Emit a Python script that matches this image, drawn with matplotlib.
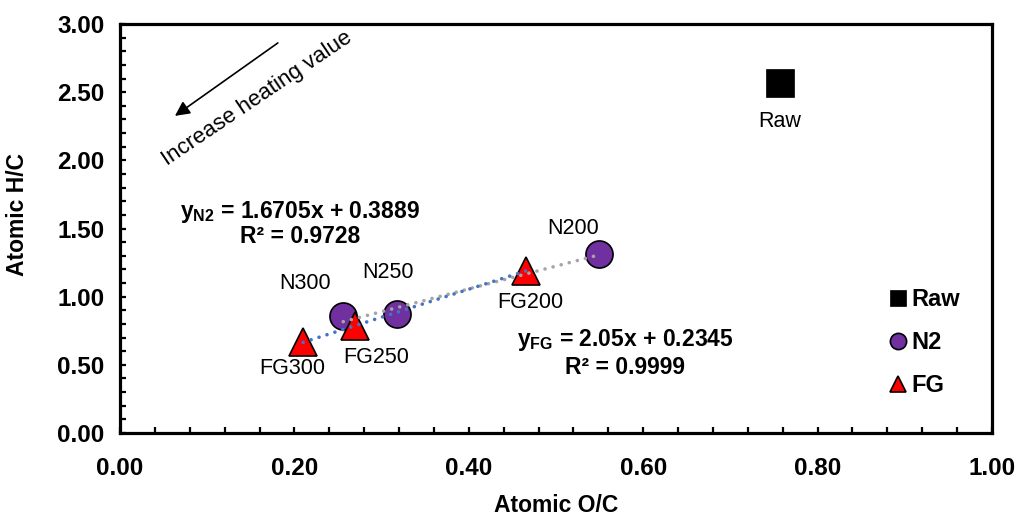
import numpy as np
import matplotlib
matplotlib.use("Agg")
import matplotlib.pyplot as plt
from matplotlib.ticker import MultipleLocator, FormatStrFormatter

plt.rcParams["font.family"] = ["Liberation Sans", "DejaVu Sans"]
plt.rcParams["mathtext.fontset"] = "custom"
plt.rcParams["mathtext.rm"] = "Liberation Sans"
plt.rcParams["mathtext.bf"] = "Liberation Sans:bold"

# Van Krevelen data: atomic O/C vs atomic H/C
raw_oc = [0.757]
raw_hc = [2.57]
raw_labels = ["Raw"]

n2_oc = [0.549, 0.318, 0.256]
n2_hc = [1.315, 0.873, 0.858]
n2_labels = ["N200", "N250", "N300"]

fg_oc = [0.466, 0.269, 0.210]
fg_hc = [1.19, 0.785, 0.665]
fg_labels = ["FG200", "FG250", "FG300"]

# Linear trendlines (slope, intercept, R^2)
n2_fit = [1.6705, 0.3889, 0.9728]
fg_fit = [2.05, 0.2345, 0.9999]

x_ticks = [0.0, 0.2, 0.4, 0.6, 0.8, 1.0]
y_ticks = [0.0, 0.5, 1.0, 1.5, 2.0, 2.5, 3.0]

fig = plt.figure(figsize=(10.2, 5.15), dpi=100)
ax = fig.add_axes([120 / 1020, 1 - 433 / 515, 872 / 1020, 409 / 515])

ms = 19.5
ax.plot(raw_oc, raw_hc, "s", color="black", ms=19.5, mec="black", mew=0.5,
        zorder=3, label="Raw", linestyle="none")
ax.plot(n2_oc, n2_hc, "o", color="#7030A0", ms=ms, mec="black", mew=1.2,
        zorder=3, label="N2", linestyle="none")
ax.plot(fg_oc, fg_hc, "^", color="#FF0000", ms=ms, mec="black", mew=1.2,
        zorder=3, label="FG", linestyle="none")

# Trendlines over each series' x range
for xs, fit, col in [(n2_oc, n2_fit, "#A5A5A5"), (fg_oc, fg_fit, "#4472C4")]:
    xx = np.array([min(xs), max(xs)])
    ax.plot(xx, fit[0] * xx + fit[1], color=col, lw=2.6,
            linestyle=(0, (0.01, 2.3)), dash_capstyle="round", zorder=4)

# Point labels (offsets in pixels)
def label_points(xs, ys, names, offsets):
    for x, y, t, (dx, dy) in zip(xs, ys, names, offsets):
        ax.annotate(t, (x, y), xytext=(dx, dy), textcoords="offset pixels",
                    ha="center", va="center", fontsize=15.5, zorder=5)

label_points(raw_oc, raw_hc, raw_labels, [(0, -39)])
label_points(n2_oc, n2_hc, n2_labels, [(-26, 25), (-9, 41), (-38, 33)])
label_points(fg_oc, fg_hc, fg_labels, [(4, -32), (22, -32), (-11, -26)])

# Trendline equations
ax.text(0.206, 1.621, r"$\mathbf{y_{N2}}$ = %.4fx + %.4f" % (n2_fit[0], n2_fit[1]),
        ha="center", va="center", fontsize=16.5, fontweight="bold")
ax.text(0.206, 1.438, "R² = %.4f" % n2_fit[2],
        ha="center", va="center", fontsize=16.5, fontweight="bold")
ax.text(0.579, 0.682, r"$\mathbf{y_{FG}}$ = %gx + %.4f" % (fg_fit[0], fg_fit[1]),
        ha="center", va="center", fontsize=16.5, fontweight="bold")
ax.text(0.579, 0.484, "R² = %.4f" % fg_fit[2],
        ha="center", va="center", fontsize=16.5, fontweight="bold")

# Direction arrow
ax.annotate("", xy=(0.063, 2.326), xytext=(0.181, 2.861),
            arrowprops=dict(arrowstyle="-|>", color="black", lw=1.2,
                            mutation_scale=22, shrinkA=0, shrinkB=0))
ax.text(0.157, 2.455, "Increase heating value", rotation=34,
        rotation_mode="anchor", ha="center", va="center", fontsize=16)

ax.set_xlim(0, 1.0)
ax.set_ylim(0, 3.0)
ax.set_xticks(x_ticks)
ax.set_yticks(y_ticks)
ax.xaxis.set_minor_locator(MultipleLocator(0.04))
ax.yaxis.set_minor_locator(MultipleLocator(0.1))
ax.xaxis.set_major_formatter(FormatStrFormatter("%.2f"))
ax.yaxis.set_major_formatter(FormatStrFormatter("%.2f"))
ax.tick_params(which="both", direction="in", length=4, width=1.6,
               top=False, right=False)
ax.tick_params(axis="x", which="major", pad=17)
ax.tick_params(axis="y", which="major", pad=11)
for lab in ax.get_xticklabels() + ax.get_yticklabels():
    lab.set_fontsize(17.5)
    lab.set_fontweight("bold")
for sp in ax.spines.values():
    sp.set_linewidth(2.3)

ax.set_xlabel("Atomic O/C", fontsize=16.5, fontweight="bold")
ax.set_ylabel("Atomic H/C", fontsize=16.5, fontweight="bold")
ax.xaxis.set_label_coords(0.5, -0.148)
ax.yaxis.set_label_coords(-0.104, 0.535)

leg = ax.legend(loc="upper left", bbox_to_anchor=(0.881, 0.355), frameon=False,
                borderaxespad=0, borderpad=0, handlelength=0.8,
                handletextpad=0.2, labelspacing=0.85, markerscale=0.6,
                prop={"size": 17, "weight": "bold"})

fig.savefig("out.png", dpi=100, facecolor="white")
